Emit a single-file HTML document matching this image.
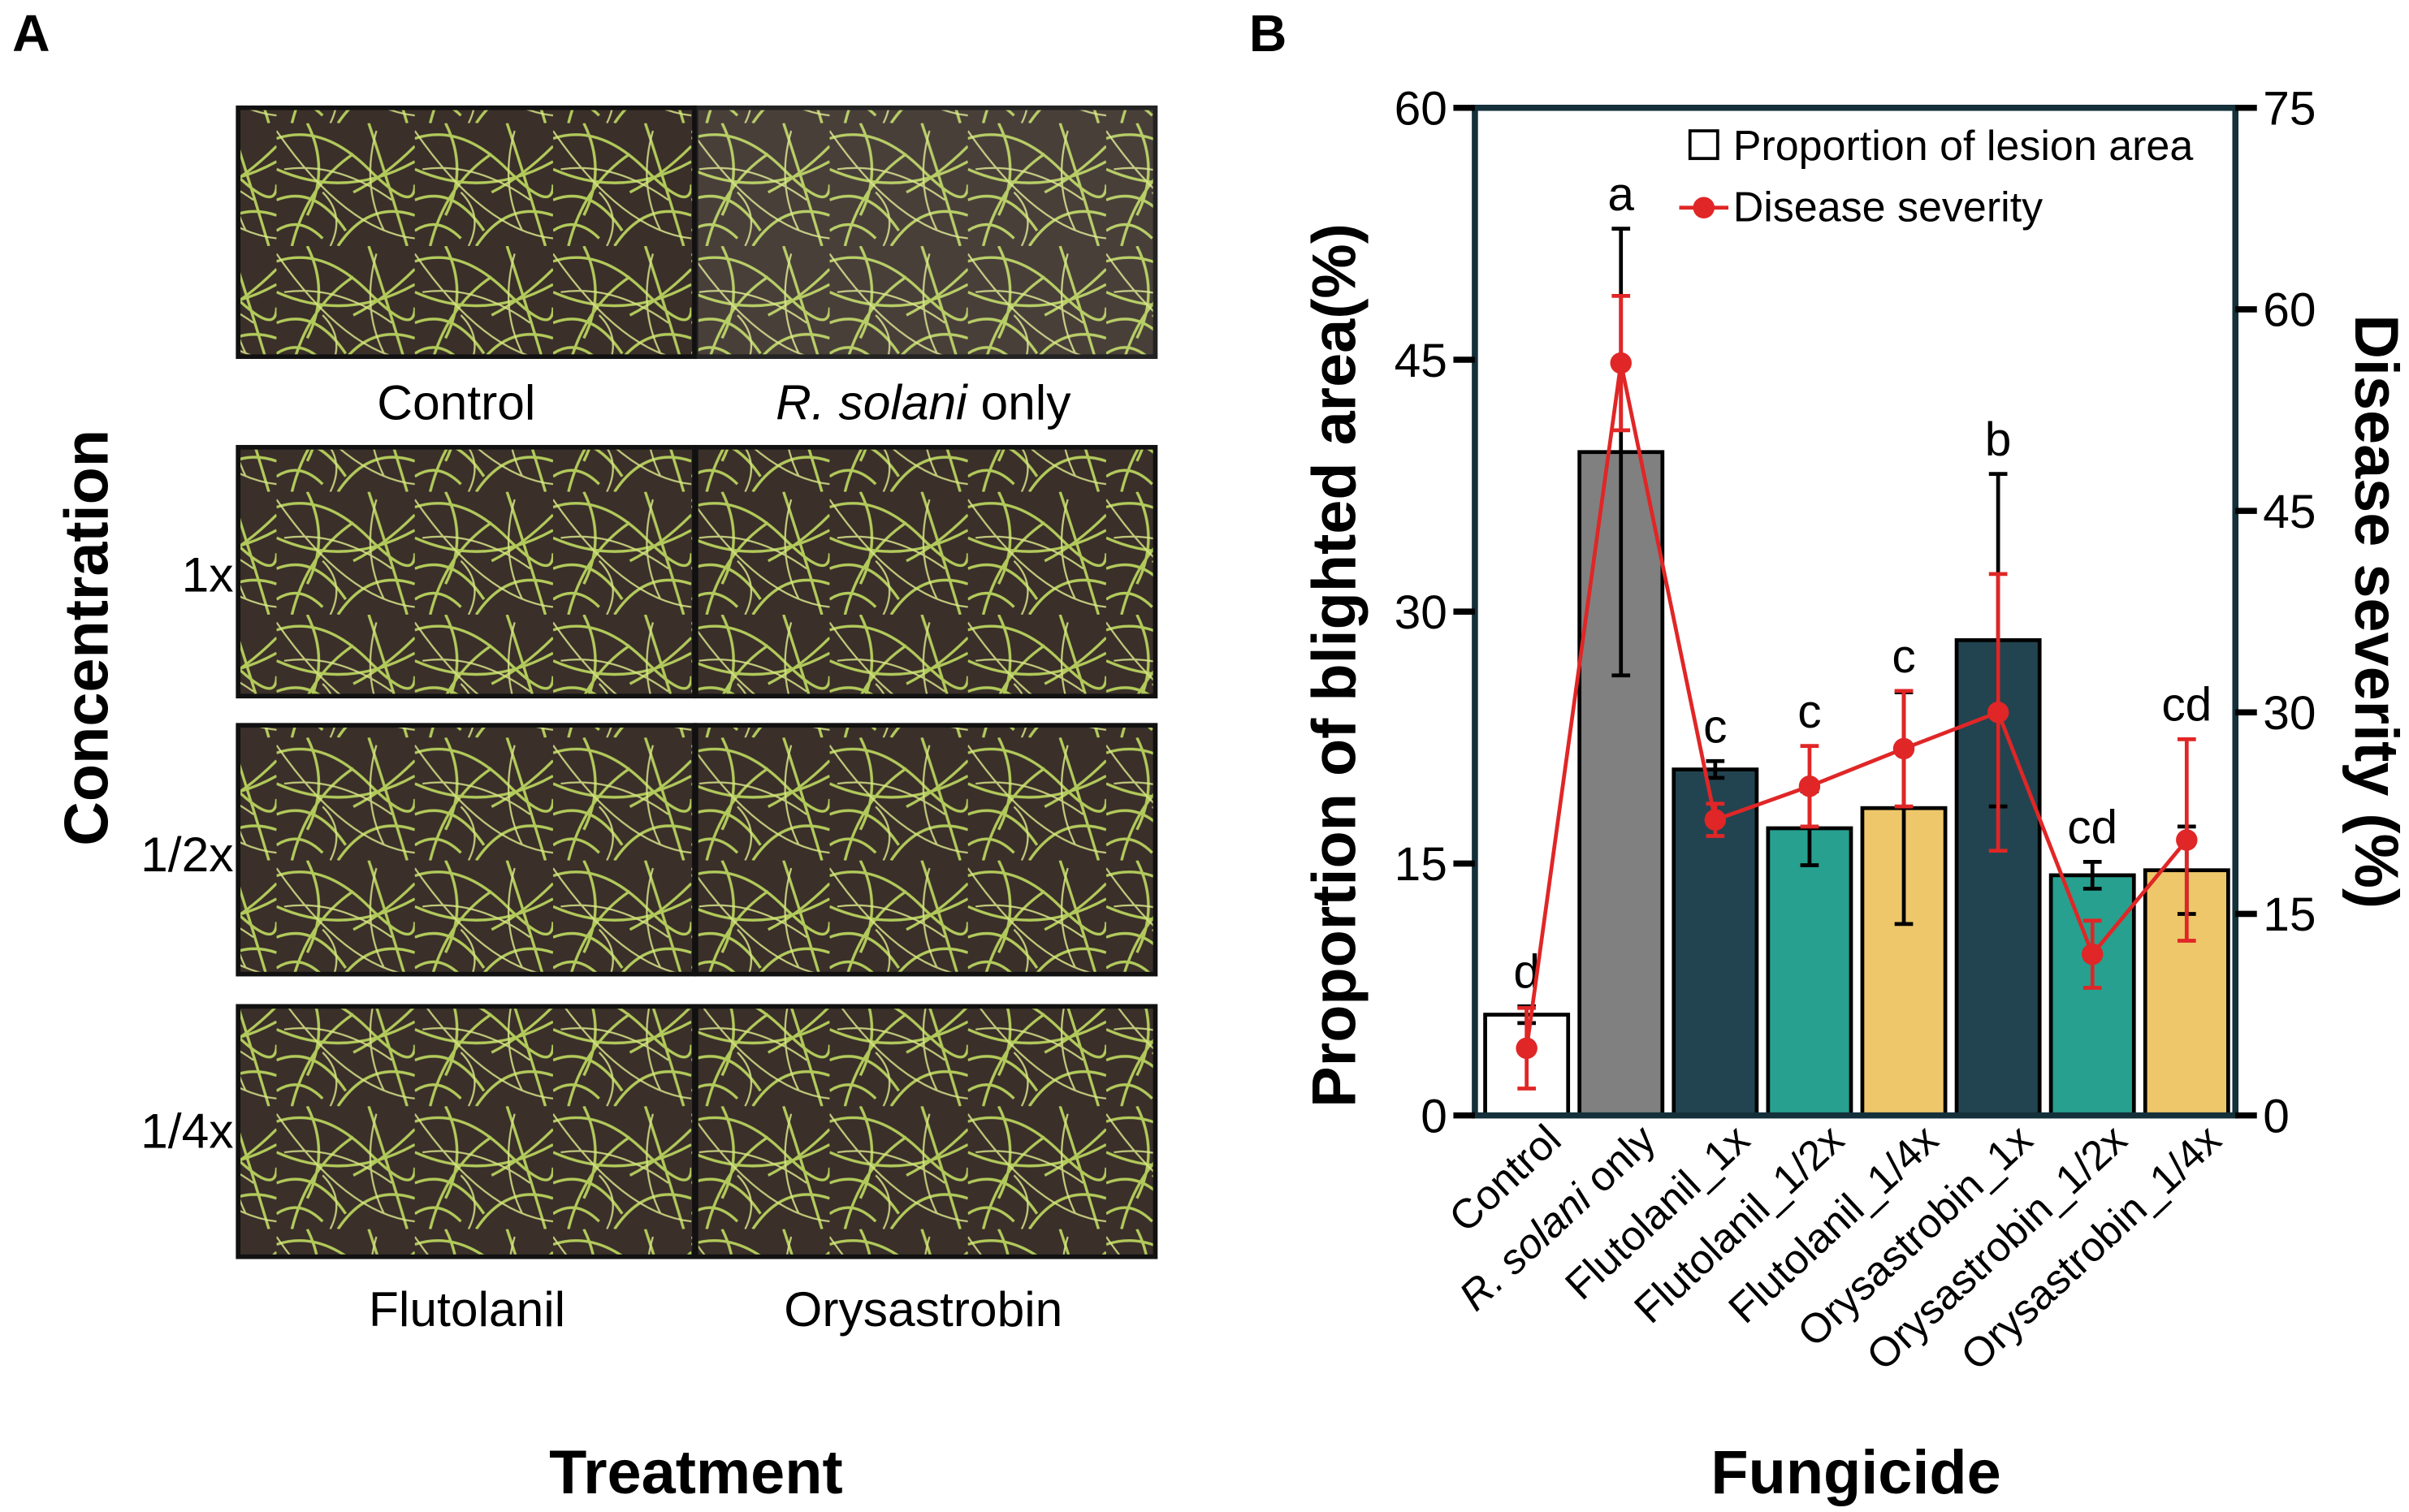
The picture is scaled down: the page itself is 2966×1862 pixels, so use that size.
<!DOCTYPE html>
<html><head><meta charset="utf-8"><style>
html,body{margin:0;padding:0;background:#fff}
svg{display:block;font-family:"Liberation Sans",Arial,sans-serif}
</style></head><body>
<svg id="fig" width="2966" height="1862" viewBox="0 0 1568 984" xmlns="http://www.w3.org/2000/svg">
<defs>
<pattern id="grass" width="90" height="80" patternUnits="userSpaceOnUse">
<rect width="90" height="80" fill="#3a2f29"/>
<g fill="none" stroke="#b9d35e" stroke-width="1.8" opacity="0.95">
<path d="M0 10 Q30 0 60 30 T90 40"/><path d="M10 80 Q20 40 50 20"/><path d="M40 80 Q60 50 90 60"/>
<path d="M0 50 Q25 40 45 70"/><path d="M60 0 Q70 30 85 80"/><path d="M20 0 Q35 30 20 60"/>
<path d="M50 45 Q70 35 90 15"/><path d="M0 70 Q15 60 30 75"/><path d="M0 30 Q45 50 90 25"/>
</g>
<g fill="none" stroke="#d9e68a" stroke-width="1.2" opacity="0.85">
<path d="M5 30 Q40 25 75 50"/><path d="M70 70 Q55 40 65 5"/><path d="M30 45 Q45 60 35 80"/><path d="M0 5 Q45 70 90 75"/>
</g>
</pattern>
</defs>

<text x="8" y="33" font-size="34" font-weight="bold">A</text>
<text x="813" y="33" font-size="34" font-weight="bold">B</text>

<g>
<rect x="155" y="70" width="297" height="162" fill="url(#grass)" stroke="#111" stroke-width="3"/>
<rect x="453" y="70" width="299" height="162" fill="url(#grass)" stroke="#111" stroke-width="3" opacity="0.92"/>
<rect x="155" y="291" width="297" height="162" fill="url(#grass)" stroke="#111" stroke-width="3"/>
<rect x="453" y="291" width="299" height="162" fill="url(#grass)" stroke="#111" stroke-width="3"/>
<rect x="155" y="472" width="297" height="162" fill="url(#grass)" stroke="#111" stroke-width="3"/>
<rect x="453" y="472" width="299" height="162" fill="url(#grass)" stroke="#111" stroke-width="3"/>
<rect x="155" y="655" width="297" height="163" fill="url(#grass)" stroke="#111" stroke-width="3"/>
<rect x="453" y="655" width="299" height="163" fill="url(#grass)" stroke="#111" stroke-width="3"/>
</g>
<g font-size="32" fill="#000">
<text x="297" y="273" text-anchor="middle">Control</text>
<text x="601" y="273" text-anchor="middle"><tspan font-style="italic">R. solani</tspan> only</text>
<text x="152" y="385" text-anchor="end">1x</text>
<text x="152" y="567" text-anchor="end">1/2x</text>
<text x="152" y="747" text-anchor="end">1/4x</text>
<text x="304" y="863" text-anchor="middle">Flutolanil</text>
<text x="601" y="863" text-anchor="middle">Orysastrobin</text>
</g>
<text transform="translate(70,415) rotate(-90)" text-anchor="middle" font-size="40" font-weight="bold">Concentration</text>
<text x="453" y="972" text-anchor="middle" font-size="40" font-weight="bold">Treatment</text>

<g id="chart"></g>

<script>
const categories = ["Control","R. solani only","Flutolanil_1x","Flutolanil_1/2x","Flutolanil_1/4x","Orysastrobin_1x","Orysastrobin_1/2x","Orysastrobin_1/4x"];
const barValues = [6.0, 39.5, 20.6, 17.1, 18.3, 28.3, 14.3, 14.6];
const barErrors = [0.5, 13.3, 0.5, 2.2, 6.9, 9.9, 0.8, 2.6];
const severityValues = [5.0, 56.0, 22.0, 24.5, 27.3, 30.0, 12.0, 20.5];
const severityErrors = [3.0, 5.0, 1.2, 3.0, 4.3, 10.3, 2.5, 7.5];
const letters = ["d","a","c","c","c","b","cd","cd"];
const barColors = ["#ffffff","#808080","#224450","#27a08f","#eec76a","#224450","#27a08f","#eec76a"];
const leftTicks = [0,15,30,45,60];
const rightTicks = [0,15,30,45,60,75];

const NS = "http://www.w3.org/2000/svg";
const g = document.getElementById("chart");
const X0 = 960, X1 = 1455, Y0 = 726, Y1 = 70;
const yL = v => Y0 - (v/60)*(Y0-Y1);
const yR = v => Y0 - (v/75)*(Y0-Y1);
const band = (X1 - X0 - 4) / categories.length;
const xC = i => X0 + 3 + band*(i+0.5);
function mk(tag, attrs, parent){ const e=document.createElementNS(NS,tag); for(const k in attrs) e.setAttribute(k,attrs[k]); (parent||g).appendChild(e); return e; }

barValues.forEach((v,i)=>{
  const b = mk("rect",{x:xC(i)-27,y:yL(v),width:54,height:Y0-yL(v),fill:barColors[i],stroke:"#000","stroke-width":2.5});
  
  
});
barValues.forEach((v,i)=>{
  const e = barErrors[i], x = xC(i);
  const eg = mk("g",{stroke:"#000","stroke-width":2.5});
  
  
  mk("line",{x1:x,x2:x,y1:yL(v+e),y2:yL(v-e)},eg);
  mk("line",{x1:x-6,x2:x+6,y1:yL(v+e),y2:yL(v+e)},eg);
  mk("line",{x1:x-6,x2:x+6,y1:yL(v-e),y2:yL(v-e)},eg);
});
letters.forEach((l,i)=>{
  const ty = Math.min(yL(barValues[i]+barErrors[i]), yR(severityValues[i]+severityErrors[i]));
  const t = mk("text",{x:xC(i),y:ty-12,"text-anchor":"middle","font-size":31});
  t.textContent = l;
  
  
});
const pts = severityValues.map((v,i)=>xC(i)+","+yR(v)).join(" ");
const pl = mk("polyline",{points:pts,fill:"none",stroke:"#e02626","stroke-width":2.5});


severityValues.forEach((v,i)=>{
  const e = severityErrors[i], x = xC(i);
  const eg = mk("g",{stroke:"#e02626","stroke-width":2.5});
  
  
  mk("line",{x1:x,x2:x,y1:yR(v+e),y2:yR(v-e)},eg);
  mk("line",{x1:x-6,x2:x+6,y1:yR(v+e),y2:yR(v+e)},eg);
  mk("line",{x1:x-6,x2:x+6,y1:yR(v-e),y2:yR(v-e)},eg);
  const c = mk("circle",{cx:x,cy:yR(v),r:7,fill:"#e02626"});
  
  
});
const fr = mk("rect",{x:X0,y:Y1,width:X1-X0,height:Y0-Y1,fill:"none",stroke:"#14303a","stroke-width":4});


leftTicks.forEach(v=>{
  const l = mk("line",{x1:X0-14,x2:X0,y1:yL(v),y2:yL(v),stroke:"#000","stroke-width":4});
  
  
  const t = mk("text",{x:X0-18,y:yL(v)+11,"text-anchor":"end","font-size":31});
  t.textContent = v;
  
  
});
rightTicks.forEach(v=>{
  const l = mk("line",{x1:X1,x2:X1+14,y1:yR(v),y2:yR(v),stroke:"#000","stroke-width":4});
  
  
  const t = mk("text",{x:X1+18,y:yR(v)+11,"text-anchor":"start","font-size":31});
  t.textContent = v;
  
  
});
categories.forEach((c,i)=>{
  const t = mk("text",{transform:"translate("+(xC(i)+24)+",744) rotate(-43)","text-anchor":"end","font-size":27});
  if(c.startsWith("R. solani")){
    const a=mk("tspan",{"font-style":"italic"},t); a.textContent="R. solani";
    const b=mk("tspan",{},t); b.textContent=" only";
  } else t.textContent = c;
  
  
});
const lg = mk("g",{});


mk("rect",{x:1100,y:85,width:18,height:18,fill:"#fff",stroke:"#000","stroke-width":2},lg);
const lt1 = mk("text",{x:1128,y:104,"font-size":27.5},lg); lt1.textContent="Proportion of lesion area";
mk("line",{x1:1093,x2:1125,y1:135,y2:135,stroke:"#e02626","stroke-width":2.5},lg);
mk("circle",{cx:1109,cy:135,r:7,fill:"#e02626"},lg);
const lt2 = mk("text",{x:1128,y:144,"font-size":27.5},lg); lt2.textContent="Disease severity";
</script>
<text transform="translate(882,433) rotate(-90)" text-anchor="middle" font-size="40" font-weight="bold">Proportion of blighted area(%)</text>
<text transform="translate(1533,398) rotate(90)" text-anchor="middle" font-size="40" font-weight="bold">Disease severity (%)</text>
<text x="1208" y="972" text-anchor="middle" font-size="40" font-weight="bold">Fungicide</text>
</svg>
</body></html>
